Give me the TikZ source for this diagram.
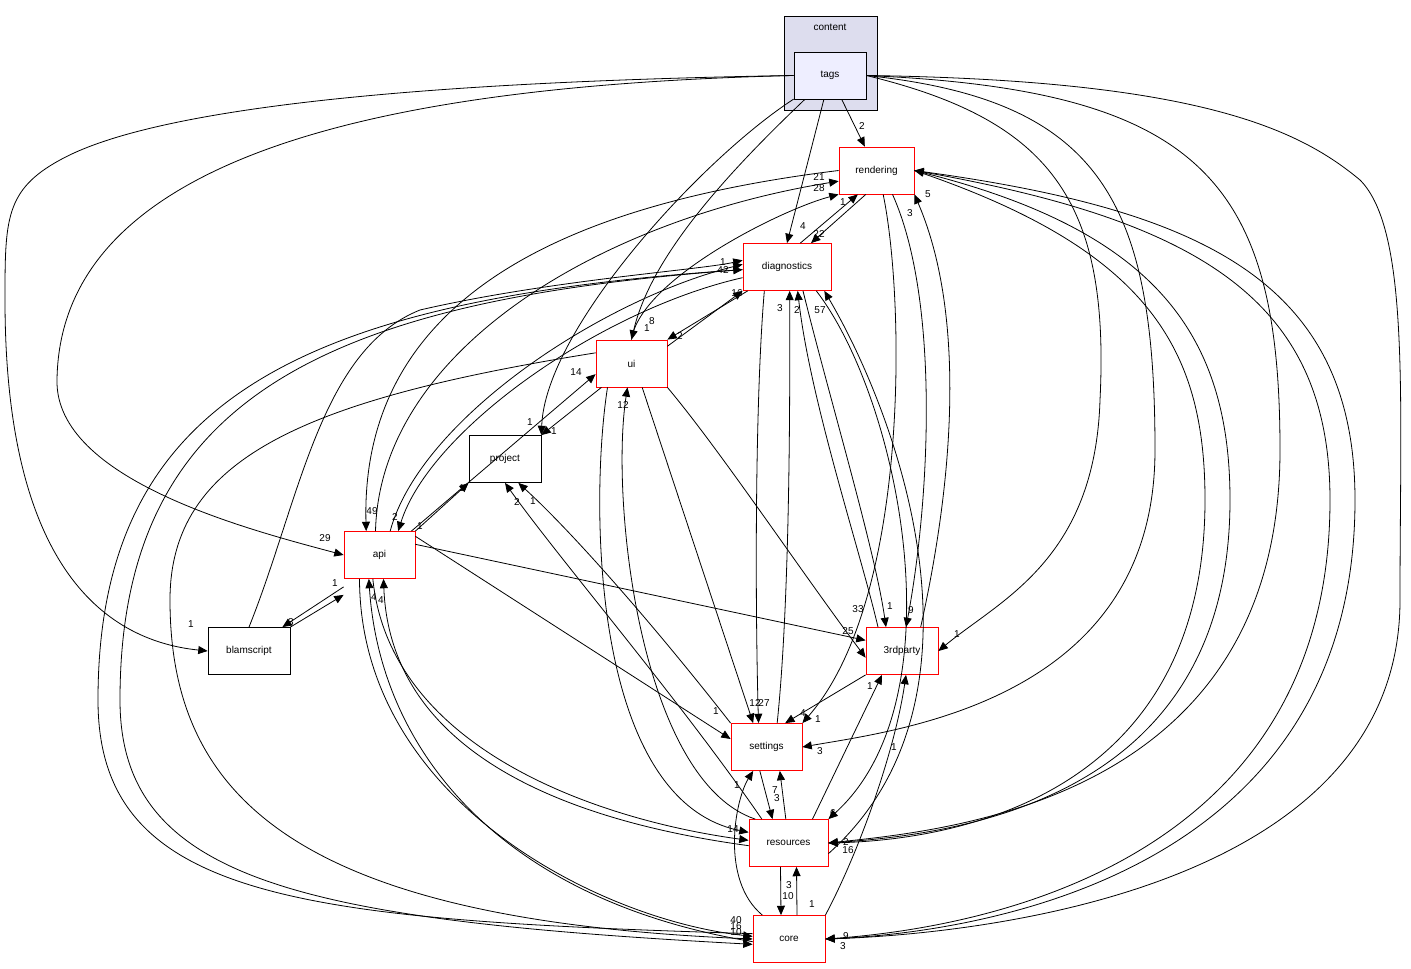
\documentclass[tikz,border=0pt]{standalone}
\usepackage{fontspec}
\setmainfont{Liberation Sans}
\usetikzlibrary{arrows.meta}
\begin{document}
\begin{tikzpicture}[x=0.75pt,y=-0.75pt,line width=0.6pt,
 box/.style={draw=red,fill=white,minimum height=35.25pt,inner sep=0pt,font=\fontsize{7.5}{9}\selectfont},
 bbox/.style={box,draw=black},
 e/.style={-{Triangle[length=7pt,width=6pt]},black},
 l/.style={inner sep=0pt,font=\fontsize{7.5}{9}\selectfont}]
\useasboundingbox (0,0) rectangle (1411,969);
\draw[fill={rgb,255:red,221;green,221;blue,238}] (784,16) rectangle (877,110);
\node[l] (ct) at (830,27) {content};
\node[bbox,fill={rgb,255:red,238;green,238;blue,255},minimum width=54pt] (tags) at (830,75.5) {tags};
\node[box,minimum width=56.25pt] (rendering) at (876.5,170.5) {rendering};
\node[box,minimum width=66pt] (diagnostics) at (787,267) {diagnostics};
\node[box,minimum width=53.25pt] (ui) at (631.5,363.5) {ui};
\node[bbox,minimum width=54pt] (project) at (505,459) {project};
\node[box,minimum width=53.25pt] (api) at (379.5,555) {api};
\node[bbox,minimum width=61.5pt] (blamscript) at (249,651) {blamscript};
\node[box,minimum width=54pt] (3rdparty) at (902,651) {3rdparty};
\node[box,minimum width=53.25pt] (settings) at (766.5,747) {settings};
\node[box,minimum width=59.25pt] (resources) at (788.5,843) {resources};
\node[box,minimum width=54pt] (core) at (789,939) {core};
% tags
\draw[e] (tags) -- (rendering);
\draw[e] (tags) -- (diagnostics.north);
\draw[e] (tags) .. controls (720,180) and (650,260) .. (ui.north);
\draw[e] (tags) .. controls (700,160) and (545,330) .. (project.north east);
\draw[e] (tags.west) .. controls (400,85) and (60,150) .. (57,380) .. controls (55,480) and (250,530) .. (api.west);
\draw[e] (tags.west) .. controls (400,82) and (150,110) .. (60,160) .. controls (5,190) and (5,220) .. (5,300) .. controls (5,560) and (100,640) .. (blamscript.west);
\draw[e] (tags.east) .. controls (1050,120) and (1110,200) .. (1100,400) .. controls (1095,560) and (1000,600) .. (3rdparty.east);
\draw[e] (tags.east) .. controls (1100,100) and (1155,200) .. (1155,450) .. controls (1155,700) and (900,730) .. (settings.east);
\draw[e] (tags.east) .. controls (1200,90) and (1280,180) .. (1280,450) .. controls (1280,800) and (950,830) .. (resources.east);
\draw[e] (tags.east) .. controls (1200,80) and (1300,130) .. (1360,180) .. controls (1410,230) and (1400,400) .. (1400,600) .. controls (1400,900) and (950,935) .. (core.east);
% rendering
\draw[e] ([xshift=-8pt]rendering.south) -- ([xshift=18pt]diagnostics.north);
\draw[e] ([xshift=10pt]diagnostics.north) -- ([xshift=-14pt]rendering.south);
\draw[e] ([xshift=12pt]rendering.south) .. controls (940,300) and (930,500) .. ([xshift=3pt]3rdparty.north);
\draw[e] ([xshift=14pt]3rdparty.north) .. controls (960,450) and (960,300) .. (rendering.south east);
\draw[e] ([xshift=5pt]rendering.south) .. controls (905,300) and (910,600) .. (settings.north east);
\draw[e] (rendering.west) .. controls (600,200) and (360,280) .. ([xshift=-10pt]api.north);
\draw[e] ([xshift=-3pt]api.north) .. controls (380,350) and (600,220) .. ([yshift=-8pt]rendering.west);
\draw[e] (ui.north) .. controls (640,280) and (780,210) .. (rendering.south west);
\draw[e] (rendering.east) .. controls (1150,250) and (1205,350) .. (1205,500) .. controls (1205,800) and (950,840) .. (resources.east);
\draw[e] (resources.east) .. controls (960,835) and (1230,800) .. (1230,500) .. controls (1230,330) and (1150,230) .. (rendering.east);
\draw[e] (rendering.east) .. controls (1200,220) and (1330,300) .. (1330,500) .. controls (1330,880) and (950,930) .. (core.east);
\draw[e] (core.east) .. controls (950,935) and (1355,890) .. (1355,500) .. controls (1355,280) and (1200,210) .. (rendering.east);
% diagnostics
\draw[e] (diagnostics) -- (ui.north east);
\draw[e] ([yshift=-5pt]ui.north east) -- (diagnostics.south west);
\draw[e] ([xshift=-17pt]diagnostics.south) .. controls (755,400) and (755,600) .. ([xshift=-6pt]settings.north);
\draw[e] ([xshift=8pt]settings.north) .. controls (790,600) and (790,400) .. ([xshift=2pt]diagnostics.south);
\draw[e] ([xshift=12pt]diagnostics.south) .. controls (830,400) and (875,550) .. ([xshift=-12pt]3rdparty.north);
\draw[e] ([xshift=-18pt]3rdparty.north) .. controls (860,550) and (810,400) .. ([xshift=8pt]diagnostics.south);
\draw[e] ([xshift=22pt]diagnostics.south) .. controls (900,400) and (960,700) .. (resources.north east);
\draw[e] ([yshift=-8pt]resources.east) .. controls (1000,700) and (900,420) .. ([xshift=28pt]diagnostics.south);
\draw[e] ([xshift=8pt]api.north) .. controls (420,420) and (600,300) .. ([yshift=2pt]diagnostics.west);
\draw[e] ([yshift=-8pt]diagnostics.west) .. controls (600,310) and (430,430) .. ([xshift=14pt]api.north);
\draw[e] (blamscript.north) .. controls (300,500) and (320,350) .. (420,310) .. controls (550,280) and (700,270) .. ([yshift=5pt]diagnostics.west);
\draw[e] ([yshift=4pt]core.west) .. controls (300,920) and (98,900) .. (98,700) .. controls (98,400) and (300,300) .. ([yshift=-2pt]diagnostics.west);
\draw[e] ([yshift=-2pt]diagnostics.west) .. controls (320,300) and (120,400) .. (120,700) .. controls (120,880) and (300,920) .. ([yshift=-4pt]core.west);
% ui
\draw[e] (ui) -- (project.north east);
\draw[e] ([xshift=-3pt]api.north east) -- ([yshift=-8pt]ui.west);
\draw[e] ([yshift=8pt]ui.west) .. controls (300,400) and (170,460) .. (170,600) .. controls (170,800) and (300,920) .. (core.west);
\draw[e] (ui.south east) .. controls (720,450) and (800,570) .. ([yshift=-5pt]3rdparty.west);
\draw[e] ([xshift=8pt]ui.south) -- ([xshift=-10pt]settings.north);
\draw[e] ([xshift=-18pt]ui.south) .. controls (590,500) and (590,800) .. ([yshift=8pt]resources.west);
\draw[e] ([xshift=-25pt]resources.north) .. controls (640,780) and (610,500) .. ([xshift=-3pt]ui.south);
% api
\draw[e] (api.north east) -- (project.south west);
\draw[e] ([yshift=-6pt]api.south west) -- ([xshift=-6pt]blamscript.north east);
\draw[e] (blamscript.north east) -- ([yshift=-12pt]api.south west);
\draw[e] ([yshift=8pt]api.east) -- ([yshift=8pt]3rdparty.west);
\draw[e] ([yshift=14pt]api.east) -- ([yshift=6pt]settings.west);
\draw[e] ([xshift=-5pt]api.south) .. controls (390,750) and (600,820) .. ([yshift=2pt]resources.west);
\draw[e] ([yshift=-2pt]resources.west) .. controls (560,820) and (390,750) .. ([xshift=3pt]api.south);
\draw[e] ([xshift=-15pt]api.south) .. controls (360,800) and (600,920) .. ([yshift=2pt]core.west);
\draw[e] ([yshift=-2pt]core.west) .. controls (500,900) and (380,750) .. ([xshift=-8pt]api.south);
% lower
\draw[e] (settings.north west) .. controls (650,620) and (570,530) .. ([xshift=10pt]project.south);
\draw[e] ([xshift=-20pt]resources.north) .. controls (680,700) and (560,560) .. (project.south);
\draw[e] ([xshift=-5pt]settings.south) -- ([xshift=-12pt]resources.north);
\draw[e] ([xshift=-2pt]resources.north) -- ([xshift=10pt]settings.south);
\draw[e] (3rdparty.south west) -- ([xshift=14pt]settings.north);
\draw[e] ([xshift=18pt]resources.north) -- ([xshift=-15pt]3rdparty.south);
\draw[e] ([xshift=-6pt]resources.south) -- ([xshift=-6pt]core.north);
\draw[e] ([xshift=6pt]core.north) -- ([xshift=6pt]resources.south);
\draw[e] (core.north east) .. controls (860,850) and (895,750) .. ([xshift=3pt]3rdparty.south);
\draw[e] ([xshift=-20pt]core.north) .. controls (720,880) and (735,800) .. ([xshift=-10pt]settings.south);
% labels
\foreach \x/\y/\t in {862/126/2,803/226/4,652/321/8,530/422/1,325/538/29,191/624/1,957/634/1,820/751/3,846/842/2,846/936/9,843/946/3,
 819/234/22,843/202/1,911/610/9,910/213/3,803/713/4,372/511/49,819/177/21,819/188/28,723/262/1,928/194/5,848/850/16,
 680/336/2,737/293/16,764/703/27,780/308/3,890/606/1,797/310/2,833/813/6,820/310/57,723/270/42,395/517/2,
 554/431/1,420/526/1,576/372/14,858/609/33,755/703/12,733/829/14,623/405/12,462/488/1,291/622/3,335/583/1,
 848/631/25,716/711/1,381/600/4,374/597/4,533/501/1,517/502/2,775/790/7,777/798/3,818/719/1,870/686/1,
 789/885/3,788/896/10,894/747/1,737/785/1,812/904/1,736/920/40,736/926/16,736/932/10,647/328/1}
 \node[l] at (\x,\y) {\t};
\end{tikzpicture}
\end{document}
